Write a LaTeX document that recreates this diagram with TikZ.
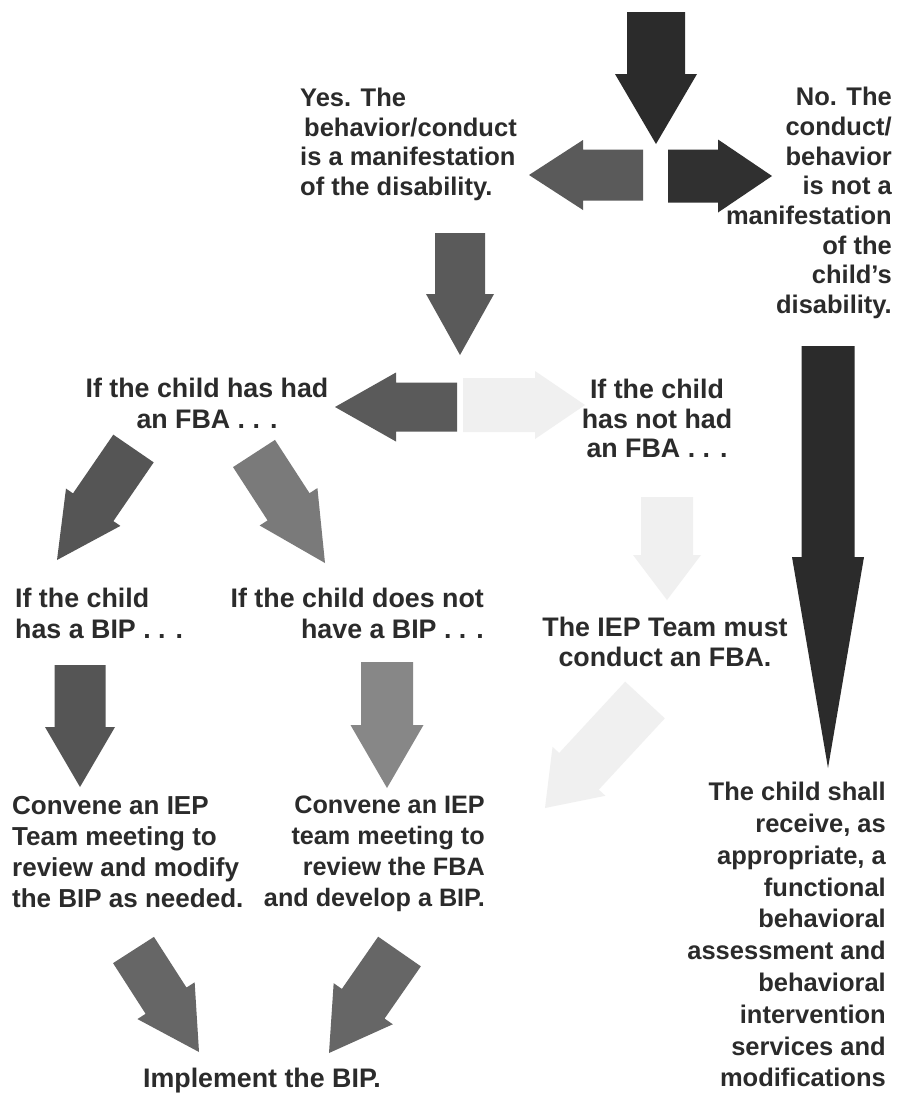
\documentclass[tikz,border=0pt]{standalone}
\usepackage{fontspec}
\setmainfont{Liberation Sans}
\usetikzlibrary{calc}
\definecolor{txt}{HTML}{2B2B2B}
\definecolor{cdark}{HTML}{2B2B2B}
\definecolor{cdarkb}{HTML}{303030}
\definecolor{cmid}{HTML}{5A5A5A}
\definecolor{cmidb}{HTML}{555555}
\definecolor{cgray}{HTML}{666666}
\definecolor{clight}{HTML}{7A7A7A}
\definecolor{clightb}{HTML}{878787}
\definecolor{cfaint}{HTML}{F0F0F0}
% block arrow: name, colour, start, tip, shaft half-width, head half-width, head length
\newcommand{\barrow}[7]{%
  \coordinate (#1s) at (#3);
  \coordinate (#1t) at (#4);
  \coordinate (#1h) at ($(#1t)!#7pt!(#1s)$);
  \fill[#2] ($(#1s)!#5pt!90:(#1t)$) -- ($(#1h)!#5pt!90:(#1t)$) -- ($(#1h)!#6pt!90:(#1t)$) -- (#1t)
    -- ($(#1h)!#6pt!-90:(#1t)$) -- ($(#1h)!#5pt!-90:(#1t)$) -- ($(#1s)!#5pt!-90:(#1t)$) -- cycle;}
\begin{document}
\begin{tikzpicture}[x=1pt,y=-1pt,
  lbl/.style={inner sep=0pt, text=txt, font=\bfseries\fontsize{25.5}{#1}\selectfont},
  lbl/.default=30,
  lblb/.style={inner sep=0pt, text=txt, font=\bfseries\fontsize{26.8}{#1}\selectfont},
  lblb/.default=31,
  lblm/.style={inner sep=0pt, text=txt, font=\bfseries\fontsize{26}{#1}\selectfont},
  lblm/.default=31,
  lbls/.style={inner sep=0pt, text=txt, font=\bfseries\fontsize{25.2}{#1}\selectfont},
  lbls/.default=31]
\useasboundingbox[fill=white] (0,0) rectangle (910,1096);

% arrows
\barrow{top}{cdark}{656,12}{656,144}{29}{41}{70}
\barrow{yesa}{cmid}{643,175}{529,175}{25.5}{35}{54}
\barrow{noa}{cdarkb}{668,176}{772,176}{26.5}{36.5}{54}
\barrow{down}{cmid}{460,233}{460,355}{25}{34}{61}
\barrow{fbal}{cmid}{457,407}{335,407}{24.5}{34.5}{61}
\barrow{fbar}{cfaint}{463,405}{585,405}{27}{34}{50}
\barrow{fbad}{cfaint}{667,497}{667,600}{26}{34}{45}
\barrow{fbag}{cfaint}{645,700}{545,808}{27}{36}{50}
\barrow{dg1}{cmidb}{133.5,448.5}{57,560}{24.5}{33}{64}
\barrow{dg2}{clight}{254,453.5}{325,563}{25}{34.4}{67}
\barrow{dn1}{cmidb}{80,665}{80,787}{25.5}{35}{60}
\barrow{dn2}{clightb}{387,662}{387,788}{26}{36.5}{63}
\barrow{bt1}{cgray}{133.5,950}{199,1052}{24.3}{34}{61}
\barrow{bt2}{cgray}{399.5,951.5}{329,1053}{26}{36}{60}
\barrow{big}{cdark}{828,346}{828,768}{26.5}{36}{211}

% texts
\node[lbl=29.5, anchor=north west, align=left] (yes) at (300,88)
  {Yes. The\\\hspace{4pt}behavior/conduct\\is a manifestation\\of the disability.};
\node[lbl=29.7, anchor=north east, align=right] (no) at (892,87)
  {No. The\\conduct/\\behavior\\is not a\\manifestation\\of the\\child’s\\disability.};
\node[lblb=31, anchor=north, align=center] (hashad) at (207,378)
  {If the child has had\\an FBA . . .};
\node[lblb=29.5, anchor=north, align=center] (hasnot) at (657,379)
  {If the child\\has not had\\an FBA . . .};
\node[lblb=31, anchor=north west, align=left] (hasbip) at (15,588)
  {If the child\\has a BIP . . .};
\node[lblb=31, anchor=north east, align=right] (nobip) at (484,588)
  {If the child does not\\have a BIP . . .};
\node[lblb=30, anchor=north, align=center] (must) at (665,617)
  {The IEP Team must\\conduct an FBA.};
\node[lblm=31, anchor=north west, align=left] (conv1) at (12,796)
  {Convene an IEP\\Team meeting to\\review and modify\\the BIP as needed.};
\node[lbls=31, anchor=north east, align=right] (conv2) at (485,796)
  {Convene an IEP\\team meeting to\\review the FBA\\and develop a BIP.};
\node[lblb, anchor=north, align=center] (impl) at (262,1068)
  {Implement the BIP.};
\node[lbl=31.8, anchor=north east, align=right] (recv) at (886,782)
  {The child shall\\receive, as\\appropriate, a\\functional\\behavioral\\assessment and\\behavioral\\intervention\\services and\\modifications};
\end{tikzpicture}
\end{document}
